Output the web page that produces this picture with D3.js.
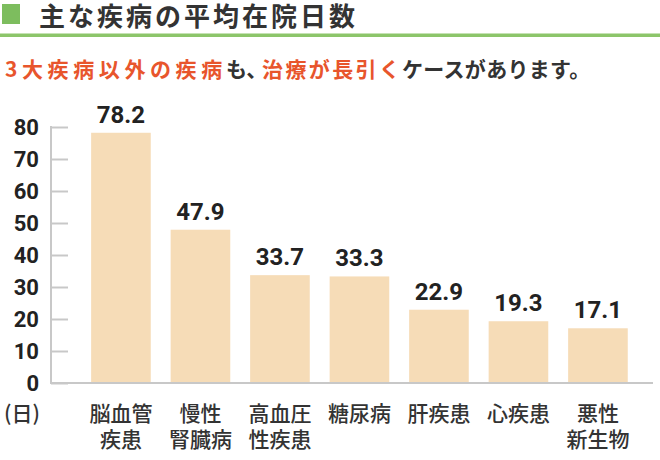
<!DOCTYPE html>
<html>
<head>
<meta charset="utf-8">
<script src="https://cdn.jsdelivr.net/npm/d3@7"></script>
<style>
  body { margin: 0; background: #fff; }
  svg { display: block; }
</style>
</head>
<body>
<script>
// data
var categories = ["脳血管\n疾患", "慢性\n腎臓病", "高血圧\n性疾患", "糖尿病", "肝疾患", "心疾患", "悪性\n新生物"];
var values = [78.2, 47.9, 33.7, 33.3, 22.9, 19.3, 17.1];
var yTicks = [0, 10, 20, 30, 40, 50, 60, 70, 80];

var W = 660, H = 460;
var jp = "'Noto Sans CJK JP', 'Noto Sans', sans-serif";
var num = "Roboto, 'Liberation Sans', sans-serif";

var svg = d3.select("body").append("svg")
	.attr("width", W)
	.attr("height", H);

// title
svg.append("rect")
	.attr("x", 2).attr("y", 4)
	.attr("width", 18).attr("height", 20)
	.attr("fill", "#7dbd5e");
svg.append("text")
	.attr("x", 39).attr("y", 26)
	.attr("font-family", jp).attr("font-weight", 700)
	.attr("font-size", 26).attr("letter-spacing", 3)
	.attr("fill", "#333")
	.text("主な疾病の平均在院日数");
svg.append("rect")
	.attr("x", 0).attr("y", 33.5)
	.attr("width", W).attr("height", 3.5)
	.attr("fill", "#8cc56a");

// subtitle (segments: text, colour, start x, letter spacing)
var sub = svg.append("text")
	.attr("y", 77)
	.attr("font-family", jp).attr("font-weight", 700)
	.attr("font-size", 21);
[["3大疾病以外の疾病", "#e8552c", 5, 4.6], ["も、", "#333", 226, 0], ["治療が長引く", "#e8552c", 262, 2.4], ["ケースがあります。", "#333", 402, 0.3]]
	.forEach(function(p) {
		sub.append("tspan")
			.attr("x", p[2])
			.attr("letter-spacing", p[3])
			.attr("fill", p[1])
			.text(p[0]);
	});

// scales
var y = d3.scaleLinear().domain([0, 80]).range([383, 127]);
var x = d3.scaleBand()
	.domain(categories)
	.range([81.2, 637.7])
	.paddingInner(0.25)
	.paddingOuter(0.125);

// y axis
var yAxis = svg.append("g")
	.attr("transform", "translate(51,0)")
	.call(d3.axisRight(y).tickValues(yTicks).tickSize(17).tickFormat(""));
yAxis.select(".domain").remove();
yAxis.selectAll(".tick line").attr("stroke", "#c8c8c8").attr("stroke-width", 2);

svg.append("line")
	.attr("x1", 51).attr("x2", 51)
	.attr("y1", y(80) - 1).attr("y2", y(0))
	.attr("stroke", "#c8c8c8").attr("stroke-width", 2);

svg.selectAll(".ylab")
	.data(yTicks)
	.enter()
	.append("text")
	.attr("class", "ylab")
	.attr("x", 39)
	.attr("y", function(d) { return y(d) + 8; })
	.attr("text-anchor", "end")
	.attr("font-family", num).attr("font-weight", 700)
	.attr("font-size", 22).attr("fill", "#222")
	.text(function(d) { return d; });

// bars
svg.selectAll(".bar")
	.data(values)
	.enter()
	.append("rect")
	.attr("class", "bar")
	.attr("x", function(d, i) { return x(categories[i]); })
	.attr("y", function(d) { return y(d); })
	.attr("width", x.bandwidth())
	.attr("height", function(d) { return y(0) - y(d); })
	.attr("fill", "#f6dcb7");

// baseline
svg.append("line")
	.attr("x1", 50).attr("x2", 653)
	.attr("y1", y(0)).attr("y2", y(0))
	.attr("stroke", "#c8c8c8").attr("stroke-width", 2);

// value labels
svg.selectAll(".val")
	.data(values)
	.enter()
	.append("text")
	.attr("class", "val")
	.attr("x", function(d, i) { return x(categories[i]) + x.bandwidth() / 2; })
	.attr("y", function(d) { return y(d) - 10; })
	.attr("text-anchor", "middle")
	.attr("font-family", num).attr("font-weight", 700)
	.attr("font-size", 24).attr("fill", "#222")
	.text(function(d) { return d.toFixed(1); });

// category labels
var cat = svg.selectAll(".cat")
	.data(categories)
	.enter()
	.append("text")
	.attr("class", "cat")
	.attr("text-anchor", "middle")
	.attr("font-family", jp).attr("font-weight", 500)
	.attr("font-size", 21).attr("fill", "#333");
cat.each(function(d) {
	var t = d3.select(this);
	d.split("\n").forEach(function(line, k) {
		t.append("tspan")
			.attr("x", x(d) + x.bandwidth() / 2)
			.attr("y", 421 + k * 25.5)
			.text(line);
	});
});

// unit
svg.append("text")
	.attr("x", 4).attr("y", 421)
	.attr("font-family", jp).attr("font-weight", 500)
	.attr("font-size", 21).attr("fill", "#333")
	.text("(日)");
</script>
</body>
</html>
